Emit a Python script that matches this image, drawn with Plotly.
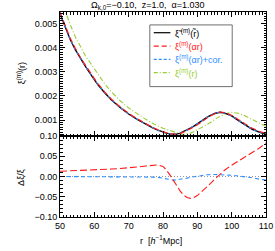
import plotly.graph_objects as go

# ---------------- data ----------------
r = [50, 51.5, 53, 54.5, 56, 57.5, 59, 61, 63, 65, 67.5, 70, 72.5, 75, 77, 78.5, 80, 81, 82, 83,
     84, 85, 86, 87, 88, 89, 90, 91, 92, 93, 95, 96.6, 98, 100, 102, 104, 106, 108, 110]

xi_tilde = [0.00540, 0.00483, 0.00432, 0.00390, 0.00352, 0.00320, 0.00288, 0.00247, 0.00213, 0.00183,
            0.00152, 0.00125, 0.00103, 0.00082, 0.00068, 0.00058, 0.00050, 0.00046, 0.00043, 0.00041,
            0.00042, 0.00046, 0.00052, 0.00059, 0.00067, 0.00075, 0.00084, 0.00094, 0.00104, 0.00113,
            0.00127, 0.00132, 0.00129, 0.00117, 0.00098, 0.00079, 0.00062, 0.00050, 0.00041]

xi_alpha = [0.00547, 0.00489, 0.00438, 0.00396, 0.00357, 0.00325, 0.00293, 0.00251, 0.00217, 0.00186,
            0.00155, 0.00128, 0.00105, 0.00084, 0.00070, 0.00060, 0.00051, 0.00047, 0.00043, 0.00041,
            0.00041, 0.00044, 0.00050, 0.00056, 0.00063, 0.00071, 0.00080, 0.00090, 0.00101, 0.00110,
            0.00126, 0.00133, 0.00131, 0.00120, 0.00102, 0.00083, 0.00066, 0.00054, 0.00044]

xi_alpha_cor = [0.00540, 0.00483, 0.00432, 0.00390, 0.00352, 0.00320, 0.00288, 0.00247, 0.00213, 0.00183,
                0.00152, 0.00125, 0.00103, 0.00082, 0.00068, 0.00058, 0.000498, 0.000457, 0.000427, 0.000406,
                0.000417, 0.000457, 0.000517, 0.000588, 0.000669, 0.00075, 0.000841, 0.000942, 0.001044, 0.001135,
                0.001276, 0.001325, 0.001294, 0.001172, 0.000981, 0.000789, 0.000618, 0.000496, 0.000406]

r_green = [50, 51.5, 53, 54.5, 56, 57.5, 59, 61, 63, 65, 67.5, 70, 72.5, 75, 77.5, 80, 82, 84, 85, 86,
           87, 88, 89, 90, 91, 92, 93, 94, 95, 96, 98, 100, 102, 104, 106, 108, 110]
xi_r = [0.00610, 0.00550, 0.00494, 0.00443, 0.00401, 0.00363, 0.00333, 0.00289, 0.00250, 0.00216,
        0.00180, 0.00150, 0.00125, 0.00103, 0.00083, 0.00066, 0.00057, 0.00046, 0.00043, 0.00041,
        0.00042, 0.00046, 0.00052, 0.00059, 0.00066, 0.00074, 0.00083, 0.00092, 0.00102, 0.00111,
        0.00125, 0.00132, 0.00128, 0.00117, 0.00102, 0.00088, 0.00074]

rel_alpha = [0.013, 0.0134, 0.0138, 0.0142, 0.0147, 0.0153, 0.0159, 0.0166, 0.0175, 0.0185,
             0.0198, 0.021, 0.0235, 0.026, 0.028, 0.0285, 0.025, 0.016, 0.004, -0.010,
             -0.024, -0.036, -0.046, -0.052, -0.054, -0.052, -0.047, -0.040, -0.032, -0.024,
             -0.007, 0.006, 0.016, 0.028, 0.038, 0.048, 0.058, 0.070, 0.083]

rel_alpha_cor = [0.0, 0.0, 0.0, 0.0, 0.0, 0.0, 0.0, 0.0, 0.0, 0.0,
                 0.0, 0.0, -0.0005, -0.001, -0.0015, -0.002, -0.004, -0.006, -0.008, -0.009,
                 -0.008, -0.007, -0.0055, -0.004, -0.002, -0.0005, 0.001, 0.0025, 0.0035, 0.0045,
                 0.005, 0.0048, 0.0042, 0.003, 0.0012, -0.0005, -0.003, -0.0065, -0.009]

zero_x = [50, 110]
zero_y = [0, 0]

x_range = [50, 110]
top_range = [0.00034, 0.00547]
bot_range = [-0.1, 0.1]

title_text = "Ω<sub>k,0</sub>=−0.10,  z=1.0,  α=1.030"
legend_labels = ["ξ̃<sup> (m)</sup>(r̃)", "ξ<sup>(m)</sup>(αr)", "ξ<sup>(m)</sup>(αr)+cor.", "ξ<sup>(m)</sup>(r)"]

# ---------------- styles ----------------
BLACK = "#000000"
RED = "#ff1a1a"
BLUE = "#2e8fff"
GREEN = "#9acd32"
GREY = "#9a9a9a"
FONT = "Liberation Sans"

fig = go.Figure()

# top panel
fig.add_trace(go.Scatter(x=r_green, y=xi_r, mode="lines", xaxis="x2", yaxis="y2",
                         line=dict(color=GREEN, width=1.1, dash="5px,2px,1px,2px"), showlegend=False))
fig.add_trace(go.Scatter(x=r, y=xi_tilde, mode="lines", xaxis="x2", yaxis="y2",
                         line=dict(color=BLACK, width=1.4), showlegend=False))
fig.add_trace(go.Scatter(x=r, y=xi_alpha_cor, mode="lines", xaxis="x2", yaxis="y2",
                         line=dict(color=BLUE, width=1.1, dash="3px,3px"), showlegend=False))
fig.add_trace(go.Scatter(x=r, y=xi_alpha, mode="lines", xaxis="x2", yaxis="y2",
                         line=dict(color=RED, width=1.1, dash="6px,3px"), showlegend=False))

# bottom panel
fig.add_trace(go.Scatter(x=zero_x, y=zero_y, mode="lines", xaxis="x", yaxis="y",
                         line=dict(color=GREY, width=1, dash="1px,2px"), showlegend=False))
fig.add_trace(go.Scatter(x=r, y=rel_alpha_cor, mode="lines", xaxis="x", yaxis="y",
                         line=dict(color=BLUE, width=1.1, dash="4px,3px"), showlegend=False))
fig.add_trace(go.Scatter(x=r, y=rel_alpha, mode="lines", xaxis="x", yaxis="y",
                         line=dict(color=RED, width=1.1, dash="7px,3px"), showlegend=False))

axis_common = dict(showline=True, linecolor=BLACK, linewidth=1, mirror="allticks",
                   ticks="inside", ticklen=5, tickcolor=BLACK, tickwidth=1,
                   showgrid=False, zeroline=False, automargin=False,
                   tickfont=dict(family=FONT, size=9, color=BLACK))

split = 0.395
fig.update_layout(
    width=275, height=251,
    margin=dict(l=60, r=9, t=12, b=34, autoexpand=False),
    paper_bgcolor="white", plot_bgcolor="white",
    font=dict(family=FONT, size=9, color=BLACK),
    xaxis=dict(range=x_range, dtick=10, anchor="y",
               minor=dict(ticks="inside", ticklen=2.5, dtick=1, tickcolor=BLACK), **axis_common),
    xaxis2=dict(range=x_range, dtick=10, anchor="y2", matches="x", showticklabels=False,
                minor=dict(ticks="inside", ticklen=2.5, dtick=1, tickcolor=BLACK), **axis_common),
    yaxis=dict(domain=[0, split], range=bot_range, dtick=0.05, tickformat=".2f", anchor="x",
               minor=dict(ticks="inside", ticklen=2.5, dtick=0.01, tickcolor=BLACK), **axis_common),
    yaxis2=dict(domain=[split, 1], range=top_range, dtick=0.001, tick0=0, tickformat=".3f", anchor="x2",
                minor=dict(ticks="inside", ticklen=2.5, dtick=0.0001, tickcolor=BLACK), **axis_common),
)

# titles
fig.add_annotation(text=title_text, xref="paper", yref="paper", x=0.424, y=1.03,
                   xanchor="center", yanchor="middle", showarrow=False,
                   font=dict(family=FONT, size=9, color=BLACK))
fig.add_annotation(text="r  [<i>h</i><sup>−1</sup>Mpc]", xref="paper", yref="paper", x=0.49, y=-0.112,
                   xanchor="center", yanchor="middle", showarrow=False,
                   font=dict(family=FONT, size=9, color=BLACK))
fig.add_annotation(text="ξ<sup>(m)</sup>(r)", xref="paper", yref="paper", x=-0.19, y=0.70,
                   xanchor="center", yanchor="middle", textangle=-90, showarrow=False,
                   font=dict(family=FONT, size=9, color=BLACK))
fig.add_annotation(text="Δξ/ξ", xref="paper", yref="paper", x=-0.19, y=0.195,
                   xanchor="center", yanchor="middle", textangle=-90, showarrow=False,
                   font=dict(family=FONT, size=9, color=BLACK))

# legend box (manual, to match the IDL-style legend)
fig.add_shape(type="rect", xref="paper", yref="paper", x0=0.436, x1=0.836, y0=0.636, y1=0.937,
              line=dict(color="#707070", width=1), fillcolor="white", layer="above")
leg_colors = [BLACK, RED, BLUE, GREEN]
leg_dash = ["solid", "5px,3px", "3px,2px", "4px,2px,1px,2px"]
leg_y = [0.899, 0.834, 0.769, 0.704]
for lab, col, dsh, yy in zip(legend_labels, leg_colors, leg_dash, leg_y):
    fig.add_shape(type="line", xref="paper", yref="paper", x0=0.455, x1=0.536, y0=yy, y1=yy,
                  line=dict(color=col, width=1.2, dash=dsh), layer="above")
    fig.add_annotation(text=lab, xref="paper", yref="paper", x=0.549, y=yy,
                       xanchor="left", yanchor="middle", showarrow=False,
                       font=dict(family=FONT, size=9, color=col))

fig.write_html("out.html", config={"displayModeBar": False},
               post_script="document.body.style.margin='0';document.body.style.overflow='hidden';")
